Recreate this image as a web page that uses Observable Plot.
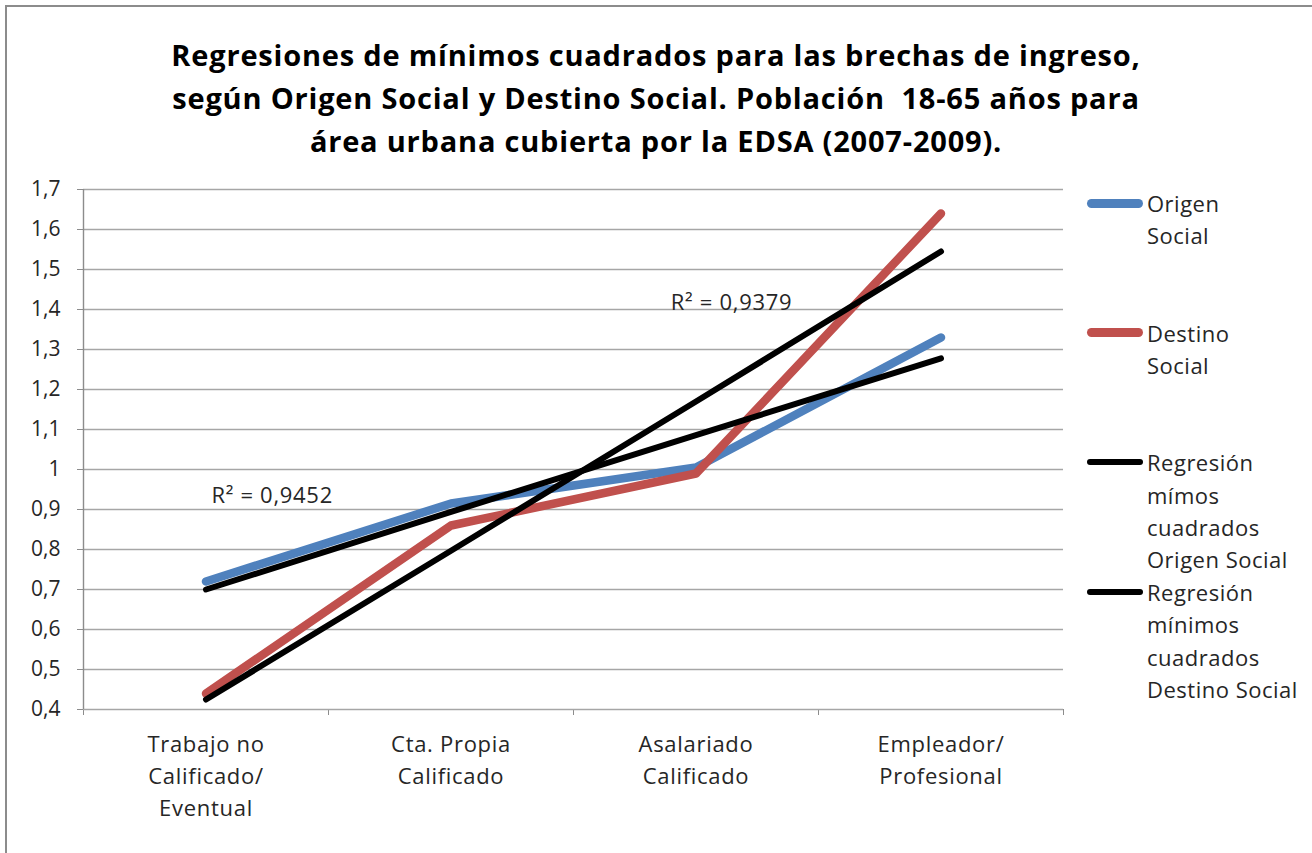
<!DOCTYPE html>
<html>
<head>
<meta charset="utf-8">
<script src="https://cdn.jsdelivr.net/npm/d3@7"></script>
<script src="https://cdn.jsdelivr.net/npm/@observablehq/plot@0.6"></script>
<style>
  html, body { margin: 0; padding: 0; background: #fff; overflow: hidden; }
  body { width: 1312px; height: 853px; position: relative; font-family: "Open Sans", Lato, sans-serif; }
  #frame { position: absolute; left: 5px; top: 5px; width: 1400px; height: 1000px; border: 2px solid #8c8c8c; box-sizing: border-box; pointer-events: none; }
  #title { position: relative; height: 170px; box-sizing: border-box; padding-top: 33px; text-align: center; font-weight: 700; font-size: 29px; letter-spacing: 0.8px; line-height: 43px; color: #000; white-space: pre; width: 1312px; }
  #chart { position: relative; }
  #chart svg g[aria-label="x-axis"] line, #chart svg g[aria-label="y-axis"] line,
  #chart svg g[aria-label="x-axis tick"] path, #chart svg g[aria-label="y-axis tick"] path { stroke: #8c8c8c; }
  #chart svg g[aria-label="y-axis"] text, #chart svg g[aria-label="y-axis tick label"] text { letter-spacing: 0; }
  #legend { position: absolute; left: 1087px; top: 187px; font-size: 22px; letter-spacing: 0.5px; line-height: 32.4px; color: #262626; }
  .item { position: relative; height: 129.6px; padding-left: 60px; }
  .sw { position: absolute; left: 0; top: 12px; width: 56px; border-radius: 5px; }
</style>
</head>
<body>
<div id="frame"></div>
<div id="title"></div>
<div id="chart"></div>
<div id="legend"></div>
<script>
const titleLines = [
  "Regresiones de mínimos cuadrados para las brechas de ingreso,",
  "según Origen Social y Destino Social. Población  18-65 años para",
  "área urbana cubierta por la EDSA (2007-2009)."
];
const categories = ["Trabajo no\nCalificado/\nEventual", "Cta. Propia\nCalificado", "Asalariado\nCalificado", "Empleador/\nProfesional"];
const origen = [0.72, 0.915, 1.005, 1.33];
const destino = [0.44, 0.86, 0.99, 1.64];
const regOrigen = [0.70, 0.894, 1.086, 1.278];
const regDestino = [0.425, 0.797, 1.170, 1.545];
const yTicks = [0.4, 0.5, 0.6, 0.7, 0.8, 0.9, 1.0, 1.1, 1.2, 1.3, 1.4, 1.5, 1.6, 1.7];
const r2Labels = [
  {x: 0.27, y: 0.935, label: "R² = 0,9452"},
  {x: 2.145, y: 1.4175, label: "R² = 0,9379"}
];
const legendItems = [
  {label: "Origen\nSocial", color: "#4F81BD", w: 9},
  {label: "Destino\nSocial", color: "#C0504D", w: 9},
  {label: "Regresión\nmímos\ncuadrados\nOrigen Social", color: "#000000", w: 6},
  {label: "Regresión\nmínimos\ncuadrados\nDestino Social", color: "#000000", w: 6}
];

document.getElementById("title").textContent = titleLines.join("\n");

const idx = categories.map((d, i) => i);
const boundaries = [-0.5, ...idx.map(i => i + 0.5)];
const fmt = d => (Math.abs(d - 1) < 1e-9 ? "1" : d.toFixed(1).replace(".", ","));
const series = (vals, color, w) => Plot.lineY(vals, {x: (d, i) => i, y: d => d, stroke: color, strokeWidth: w, strokeLinecap: "round", strokeLinejoin: "round"});

const chart = Plot.plot({
  width: 1080,
  height: 683,
  marginTop: 19,
  marginBottom: 144,
  marginLeft: 83,
  marginRight: 17,
  style: {fontFamily: "'Open Sans', Lato, sans-serif", fontSize: "21px", letterSpacing: "0.7px", color: "#262626", background: "transparent", overflow: "visible"},
  x: {type: "linear", domain: [-0.5, categories.length - 0.5], ticks: boundaries, tickFormat: () => "", tickSize: 6, label: null},
  y: {domain: [0.4, 1.7], ticks: yTicks, tickFormat: fmt, tickSize: 6, tickPadding: 17, label: null},
  marks: [
    Plot.ruleY(yTicks, {stroke: "#a6a6a6", strokeWidth: 1.4}),
    Plot.ruleX([-0.5], {stroke: "#8c8c8c", strokeWidth: 1.4}),
    series(origen, "#4F81BD", 8.5),
    series(destino, "#C0504D", 8.5),
    series(regOrigen, "#000000", 6),
    series(regDestino, "#000000", 6),
    Plot.text(categories, {x: (d, i) => i, frameAnchor: "bottom", lineAnchor: "top", dy: 20, lineHeight: 1.455, text: d => d, fontSize: 22, fill: "#262626"}),
    Plot.text(r2Labels, {x: "x", y: "y", text: "label", fontSize: 22, fill: "#262626"})
  ]
});
document.getElementById("chart").appendChild(chart);

const legend = document.getElementById("legend");
for (const it of legendItems) {
  const div = document.createElement("div");
  div.className = "item";
  const sw = document.createElement("div");
  sw.className = "sw";
  sw.style.background = it.color;
  sw.style.height = it.w + "px";
  sw.style.top = (16.2 - it.w / 2) + "px";
  div.appendChild(sw);
  const t = document.createElement("div");
  t.style.whiteSpace = "pre";
  t.textContent = it.label;
  div.appendChild(t);
  legend.appendChild(div);
}
</script>
</body>
</html>
